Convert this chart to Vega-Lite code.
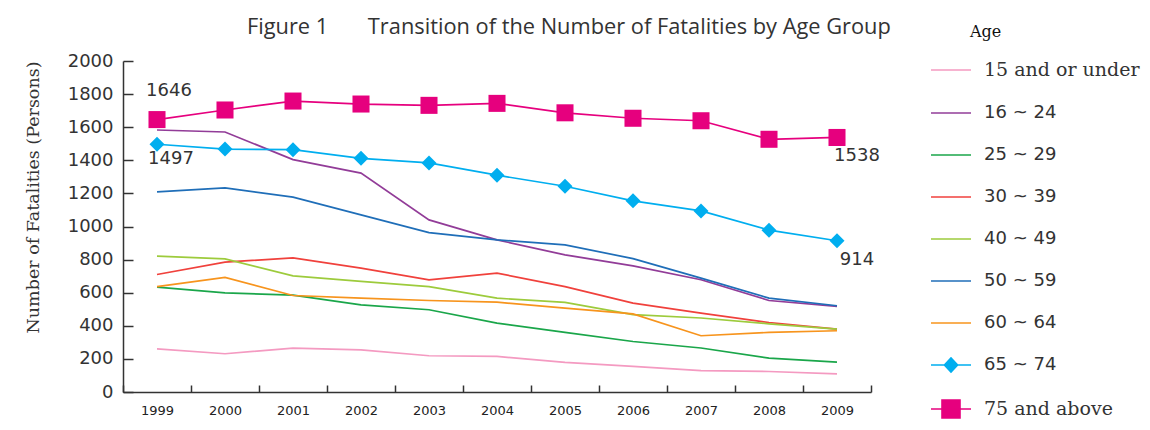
{
  "$schema": "https://vega.github.io/schema/vega-lite/v6.json",
  "width": 748,
  "height": 331,
  "autosize": {"type": "none"},
  "padding": {"left": 123, "top": 61, "right": 279, "bottom": 38},
  "background": "white",
  "config": {"view": {"stroke": null}, "font": "Liberation Sans"},
  "title": {
    "text": "Figure 1\u00a0\u00a0\u00a0\u00a0\u00a0\u00a0\u00a0Transition of the Number of Fatalities by Age Group",
    "anchor": "start",
    "frame": "group",
    "dx": 124,
    "dy": 20,
    "offset": 5,
    "font": "Open Sans",
    "fontSize": 21.8,
    "fontWeight": "normal",
    "color": "#333333"
  },
  "datasets": {
    "fatal": [
      {"year": "1999", "age": "15 and or under", "n": 261},
      {"year": "2000", "age": "15 and or under", "n": 231},
      {"year": "2001", "age": "15 and or under", "n": 265},
      {"year": "2002", "age": "15 and or under", "n": 255},
      {"year": "2003", "age": "15 and or under", "n": 219},
      {"year": "2004", "age": "15 and or under", "n": 215},
      {"year": "2005", "age": "15 and or under", "n": 179},
      {"year": "2006", "age": "15 and or under", "n": 155},
      {"year": "2007", "age": "15 and or under", "n": 129},
      {"year": "2008", "age": "15 and or under", "n": 124},
      {"year": "2009", "age": "15 and or under", "n": 110},
      {"year": "1999", "age": "16 ~ 24", "n": 1583},
      {"year": "2000", "age": "16 ~ 24", "n": 1571},
      {"year": "2001", "age": "16 ~ 24", "n": 1404},
      {"year": "2002", "age": "16 ~ 24", "n": 1323},
      {"year": "2003", "age": "16 ~ 24", "n": 1040},
      {"year": "2004", "age": "16 ~ 24", "n": 919},
      {"year": "2005", "age": "16 ~ 24", "n": 829},
      {"year": "2006", "age": "16 ~ 24", "n": 762},
      {"year": "2007", "age": "16 ~ 24", "n": 678},
      {"year": "2008", "age": "16 ~ 24", "n": 553},
      {"year": "2009", "age": "16 ~ 24", "n": 517},
      {"year": "1999", "age": "25 ~ 29", "n": 634},
      {"year": "2000", "age": "25 ~ 29", "n": 599},
      {"year": "2001", "age": "25 ~ 29", "n": 585},
      {"year": "2002", "age": "25 ~ 29", "n": 527},
      {"year": "2003", "age": "25 ~ 29", "n": 497},
      {"year": "2004", "age": "25 ~ 29", "n": 416},
      {"year": "2005", "age": "25 ~ 29", "n": 360},
      {"year": "2006", "age": "25 ~ 29", "n": 305},
      {"year": "2007", "age": "25 ~ 29", "n": 266},
      {"year": "2008", "age": "25 ~ 29", "n": 205},
      {"year": "2009", "age": "25 ~ 29", "n": 181},
      {"year": "1999", "age": "30 ~ 39", "n": 710},
      {"year": "2000", "age": "30 ~ 39", "n": 785},
      {"year": "2001", "age": "30 ~ 39", "n": 810},
      {"year": "2002", "age": "30 ~ 39", "n": 748},
      {"year": "2003", "age": "30 ~ 39", "n": 678},
      {"year": "2004", "age": "30 ~ 39", "n": 718},
      {"year": "2005", "age": "30 ~ 39", "n": 637},
      {"year": "2006", "age": "30 ~ 39", "n": 537},
      {"year": "2007", "age": "30 ~ 39", "n": 477},
      {"year": "2008", "age": "30 ~ 39", "n": 420},
      {"year": "2009", "age": "30 ~ 39", "n": 380},
      {"year": "1999", "age": "40 ~ 49", "n": 821},
      {"year": "2000", "age": "40 ~ 49", "n": 804},
      {"year": "2001", "age": "40 ~ 49", "n": 702},
      {"year": "2002", "age": "40 ~ 49", "n": 668},
      {"year": "2003", "age": "40 ~ 49", "n": 637},
      {"year": "2004", "age": "40 ~ 49", "n": 567},
      {"year": "2005", "age": "40 ~ 49", "n": 541},
      {"year": "2006", "age": "40 ~ 49", "n": 468},
      {"year": "2007", "age": "40 ~ 49", "n": 447},
      {"year": "2008", "age": "40 ~ 49", "n": 412},
      {"year": "2009", "age": "40 ~ 49", "n": 380},
      {"year": "1999", "age": "50 ~ 59", "n": 1209},
      {"year": "2000", "age": "50 ~ 59", "n": 1233},
      {"year": "2001", "age": "50 ~ 59", "n": 1177},
      {"year": "2002", "age": "50 ~ 59", "n": 1070},
      {"year": "2003", "age": "50 ~ 59", "n": 963},
      {"year": "2004", "age": "50 ~ 59", "n": 919},
      {"year": "2005", "age": "50 ~ 59", "n": 889},
      {"year": "2006", "age": "50 ~ 59", "n": 806},
      {"year": "2007", "age": "50 ~ 59", "n": 688},
      {"year": "2008", "age": "50 ~ 59", "n": 567},
      {"year": "2009", "age": "50 ~ 59", "n": 521},
      {"year": "1999", "age": "60 ~ 64", "n": 637},
      {"year": "2000", "age": "60 ~ 64", "n": 692},
      {"year": "2001", "age": "60 ~ 64", "n": 583},
      {"year": "2002", "age": "60 ~ 64", "n": 567},
      {"year": "2003", "age": "60 ~ 64", "n": 553},
      {"year": "2004", "age": "60 ~ 64", "n": 543},
      {"year": "2005", "age": "60 ~ 64", "n": 507},
      {"year": "2006", "age": "60 ~ 64", "n": 472},
      {"year": "2007", "age": "60 ~ 64", "n": 340},
      {"year": "2008", "age": "60 ~ 64", "n": 360},
      {"year": "2009", "age": "60 ~ 64", "n": 370},
      {"year": "1999", "age": "65 ~ 74", "n": 1497},
      {"year": "2000", "age": "65 ~ 74", "n": 1468},
      {"year": "2001", "age": "65 ~ 74", "n": 1464},
      {"year": "2002", "age": "65 ~ 74", "n": 1412},
      {"year": "2003", "age": "65 ~ 74", "n": 1384},
      {"year": "2004", "age": "65 ~ 74", "n": 1310},
      {"year": "2005", "age": "65 ~ 74", "n": 1243},
      {"year": "2006", "age": "65 ~ 74", "n": 1155},
      {"year": "2007", "age": "65 ~ 74", "n": 1094},
      {"year": "2008", "age": "65 ~ 74", "n": 978},
      {"year": "2009", "age": "65 ~ 74", "n": 914},
      {"year": "1999", "age": "75 and above", "n": 1646},
      {"year": "2000", "age": "75 and above", "n": 1704},
      {"year": "2001", "age": "75 and above", "n": 1758},
      {"year": "2002", "age": "75 and above", "n": 1740},
      {"year": "2003", "age": "75 and above", "n": 1732},
      {"year": "2004", "age": "75 and above", "n": 1744},
      {"year": "2005", "age": "75 and above", "n": 1687},
      {"year": "2006", "age": "75 and above", "n": 1654},
      {"year": "2007", "age": "75 and above", "n": 1639},
      {"year": "2008", "age": "75 and above", "n": 1527},
      {"year": "2009", "age": "75 and above", "n": 1538}
    ]
  },
  "data": {"name": "fatal"},
  "encoding": {
    "x": {
      "field": "year",
      "type": "ordinal",
      "scale": {"type": "band", "paddingInner": 0, "paddingOuter": 0},
      "axis": {
        "title": null,
        "labelAngle": 0,
        "tickBand": "extent",
        "tickSize": -7,
        "tickColor": "#333333",
        "tickWidth": 1.5,
        "domainColor": "#333333",
        "domainWidth": 1.5,
        "labelFont": "DejaVu Sans",
        "labelFontSize": 13,
        "labelColor": "#222222",
        "labelPadding": 19
      }
    },
    "y": {
      "field": "n",
      "type": "quantitative",
      "scale": {"domain": [0, 2000], "nice": false},
      "axis": {
        "values": [0, 200, 400, 600, 800, 1000, 1200, 1400, 1600, 1800, 2000],
        "format": "d",
        "grid": false,
        "tickSize": -10,
        "tickColor": "#333333",
        "tickWidth": 1.5,
        "domainColor": "#333333",
        "domainWidth": 1.5,
        "labelFont": "DejaVu Sans",
        "labelFontSize": 18,
        "labelColor": "#333333",
        "labelPadding": 20,
        "title": "Number of Fatalities (Persons)",
        "titleFont": "DejaVu Serif",
        "titleFontSize": 17.5,
        "titleFontWeight": "normal",
        "titleColor": "#333333",
        "titleX": -90,
        "titleY": 136,
        "titleBaseline": "middle"
      }
    }
  },
  "layer": [
    {
      "mark": {"type": "line", "strokeWidth": 1.7},
      "encoding": {
        "color": {
          "field": "age",
          "type": "nominal",
          "scale": {
            "domain": ["15 and or under", "16 ~ 24", "25 ~ 29", "30 ~ 39", "40 ~ 49", "50 ~ 59", "60 ~ 64", "65 ~ 74", "75 and above"],
            "range": ["#F49AC1", "#923C98", "#1AA64A", "#F0413C", "#9DCB3C", "#1F6EB8", "#F7941D", "#00AEEF", "#E6007E"]
          },
          "legend": {
            "title": "Age",
            "orient": "none",
            "legendX": 807,
            "legendY": -37,
            "padding": 0,
            "titleFont": "DejaVu Serif",
            "titleFontSize": 16,
            "titleFontWeight": "normal",
            "titleColor": "#111111",
            "titlePadding": 9,
            "labelFont": "DejaVu Sans",
            "labelFontSize": 18,
            "labelColor": "#333333",
            "labelOffset": 12,
            "symbolSize": 1600,
            "symbolType": "M-1,0H1",
            "symbolStrokeWidth": 1.6,
            "rowPadding": 12,
            "encode": {
              "symbols": {
                "update": {
                  "shape": {"signal": "datum.value === '65 ~ 74' ? 'M-1,0H1M-0.33,0L0,-0.35L0.33,0L0,0.35Z' : datum.value === '75 and above' ? 'M-1,0H1M-0.45,-0.45H0.45V0.45H-0.45Z' : 'M-1,0H1'"},
                  "fill": {"signal": "scale('color', datum.value)"},
                  "stroke": {"signal": "scale('color', datum.value)"},
                  "strokeWidth": {"value": 1.6},
                  "opacity": {"value": 1}
                }
              },
              "labels": {
                "update": {
                  "font": {"signal": "datum.value === '15 and or under' || datum.value === '75 and above' ? 'DejaVu Serif' : 'DejaVu Sans'"},
                  "fontSize": {"signal": "datum.value === '15 and or under' || datum.value === '75 and above' ? 19 : 18"}
                }
              },
              "title": {"update": {"dx": {"value": 40}}}
            }
          }
        }
      }
    },
    {
      "transform": [{"filter": "datum.age === '65 ~ 74'"}],
      "mark": {"type": "point", "shape": "diamond", "filled": true, "opacity": 1, "size": 225},
      "encoding": {"color": {"field": "age", "type": "nominal"}}
    },
    {
      "transform": [{"filter": "datum.age === '75 and above'"}],
      "mark": {"type": "point", "shape": "square", "filled": true, "opacity": 1, "size": 290},
      "encoding": {"color": {"field": "age", "type": "nominal"}}
    },
    {
      "transform": [{"filter": "datum.age === '75 and above' && datum.year === '1999'"}],
      "mark": {"type": "text", "dx": 12, "dy": -29, "font": "DejaVu Sans", "fontSize": 18, "color": "#333333"},
      "encoding": {"text": {"field": "n", "type": "quantitative"}}
    },
    {
      "transform": [{"filter": "datum.age === '65 ~ 74' && datum.year === '1999'"}],
      "mark": {"type": "text", "dx": 14, "dy": 15, "font": "DejaVu Sans", "fontSize": 18, "color": "#333333"},
      "encoding": {"text": {"field": "n", "type": "quantitative"}}
    },
    {
      "transform": [{"filter": "(datum.age === '65 ~ 74' || datum.age === '75 and above') && datum.year === '2009'"}],
      "mark": {"type": "text", "dx": 20, "dy": 19, "font": "DejaVu Sans", "fontSize": 18, "color": "#333333"},
      "encoding": {"text": {"field": "n", "type": "quantitative"}}
    }
  ]
}
